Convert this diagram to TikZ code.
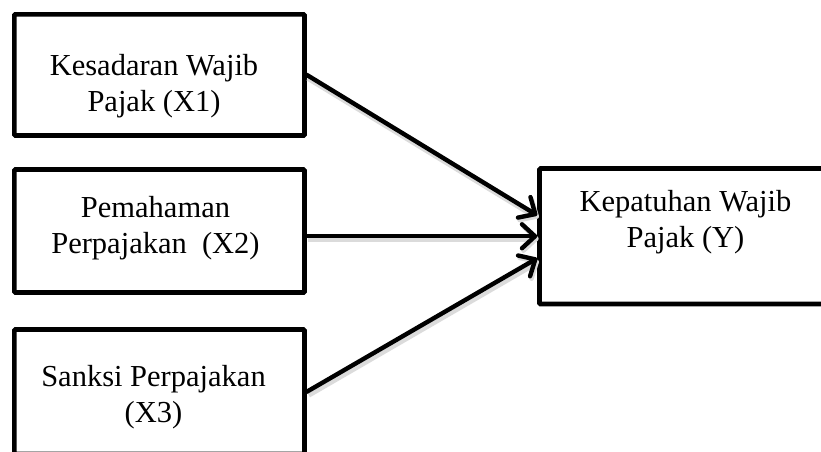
\documentclass[tikz,border=0pt]{standalone}
\usepackage{fontspec}
\setmainfont{Liberation Serif}
\usetikzlibrary{arrows.meta}
\begin{document}
\begin{tikzpicture}[x=1pt,y=-1pt,
  box/.style={draw=black, line width=4.6pt, inner sep=0pt, rounded corners=1pt},
  lbl/.style={align=center, inner sep=0pt, anchor=north, font=\fontsize{30.5}{36}\selectfont},
  conn/.style={line width=4.4pt, line cap=round,
    -{Straight Barb[length=13pt,width=24pt,line width=4.4pt,round]},
    preaction={draw=black!14, line width=7pt, transform canvas={xshift=1.5pt,yshift=-2.5pt}}}
]
\useasboundingbox (0,0) rectangle (821,451);
\node[box, minimum width=290.2pt, minimum height=121.2pt] (x1) at (159.4,74.9) {};
\node[box, minimum width=290.2pt, minimum height=123pt] (x2) at (159.4,231) {};
\node[box, minimum width=290.2pt, minimum height=124.5pt] (x3) at (159.4,391.75) {};
\node[box, minimum width=295.5pt, minimum height=135.5pt] (y) at (687.25,236.25) {};
\node[lbl] (t1) at (154,54.5) {Kesadaran Wajib\\Pajak (X1)};
\node[lbl] (t2) at (155.5,196) {Pemahaman\\Perpajakan~~(X2)};
\node[lbl] (t3) at (153.5,365.5) {Sanksi Perpajakan\\(X3)};
\node[lbl] (ty) at (685.5,190.5) {Kepatuhan Wajib\\Pajak (Y)};
\draw[conn] (x1.east) -- ([yshift=21pt]y.west);
\draw[conn] (x2.east |- y.west) -- (y.west);
\draw[conn] (x3.east) -- ([yshift=-22pt]y.west);
\end{tikzpicture}
\end{document}
